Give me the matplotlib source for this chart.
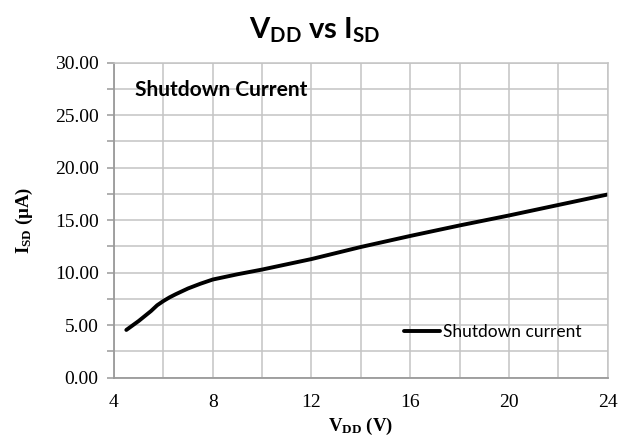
import numpy as np
import matplotlib
matplotlib.use("Agg")
import matplotlib.pyplot as plt
from matplotlib.ticker import MultipleLocator, FormatStrFormatter

# --- data ---
vdd = [4.5, 5.0, 5.5, 5.75, 6.0, 6.25, 6.5, 7.0, 7.5, 8.0, 9.0, 10.0, 12.0, 14.0, 16.0, 18.0, 20.0, 22.0, 24.0]
isd = [4.55, 5.4, 6.35, 6.9, 7.3, 7.65, 7.95, 8.5, 8.95, 9.35, 9.85, 10.3, 11.3, 12.45, 13.5, 14.5, 15.45, 16.45, 17.45]

series_label = "Shutdown current"
inner_title = "Shutdown Current"
x_ticks = [4, 8, 12, 16, 20, 24]

fig = plt.figure(figsize=(6.29, 4.41), dpi=100)
ax = fig.add_axes([0.1812, 0.1435, 0.966 - 0.1812, 0.8578 - 0.1435])

ax.plot(vdd, isd, color="black", linewidth=2.8, solid_capstyle="round",
        solid_joinstyle="round", label=series_label)

ax.set_xlim(4, 24)
ax.set_ylim(0, 30)
ax.set_xticks(x_ticks)
ax.xaxis.set_minor_locator(MultipleLocator(2))
ax.yaxis.set_major_locator(MultipleLocator(5))
ax.yaxis.set_minor_locator(MultipleLocator(2.5))
ax.yaxis.set_major_formatter(FormatStrFormatter("%.2f"))

ax.grid(True, which="both", color="#c4c4c4", linewidth=1.1)
ax.set_axisbelow(True)
for side in ["top", "right"]:
    ax.spines[side].set_color("#c4c4c4")
    ax.spines[side].set_linewidth(1.1)
for side in ["left", "bottom"]:
    ax.spines[side].set_color("#9a9a9a")
    ax.spines[side].set_linewidth(1.3)

ax.tick_params(axis="x", which="both", labelsize=14, length=0, pad=12)
ax.tick_params(axis="y", which="both", labelsize=14, length=5, color="#9a9a9a",
               width=1.1, pad=6)
for lab in ax.get_xticklabels() + ax.get_yticklabels():
    lab.set_fontfamily("Liberation Serif")
    lab.set_fontsize(14)

ax.set_xlabel(r"$\mathregular{V_{DD}}$ (V)", fontfamily="Liberation Serif",
              fontweight="bold", fontsize=13.5, labelpad=3)
ax.set_ylabel(r"$\mathregular{I_{SD}}$ (µA)", fontfamily="Liberation Serif",
              fontweight="bold", fontsize=13.5, labelpad=14)

fig.suptitle(r"$\mathregular{V_{DD}}$ vs $\mathregular{I_{SD}}$", x=0.5, y=0.965,
             fontfamily="Lato", fontweight="bold", fontsize=21)

ax.text(0.042, 0.945, inner_title, transform=ax.transAxes, ha="left", va="top",
        fontfamily="Lato", fontweight="bold", fontsize=15)

leg = ax.legend(loc="center left", bbox_to_anchor=(0.57, 0.145), frameon=False,
                handlelength=2.1, handletextpad=0.15, borderpad=0,
                prop={"family": "Lato", "size": 12.5})

fig.savefig("out.png", dpi=100)
